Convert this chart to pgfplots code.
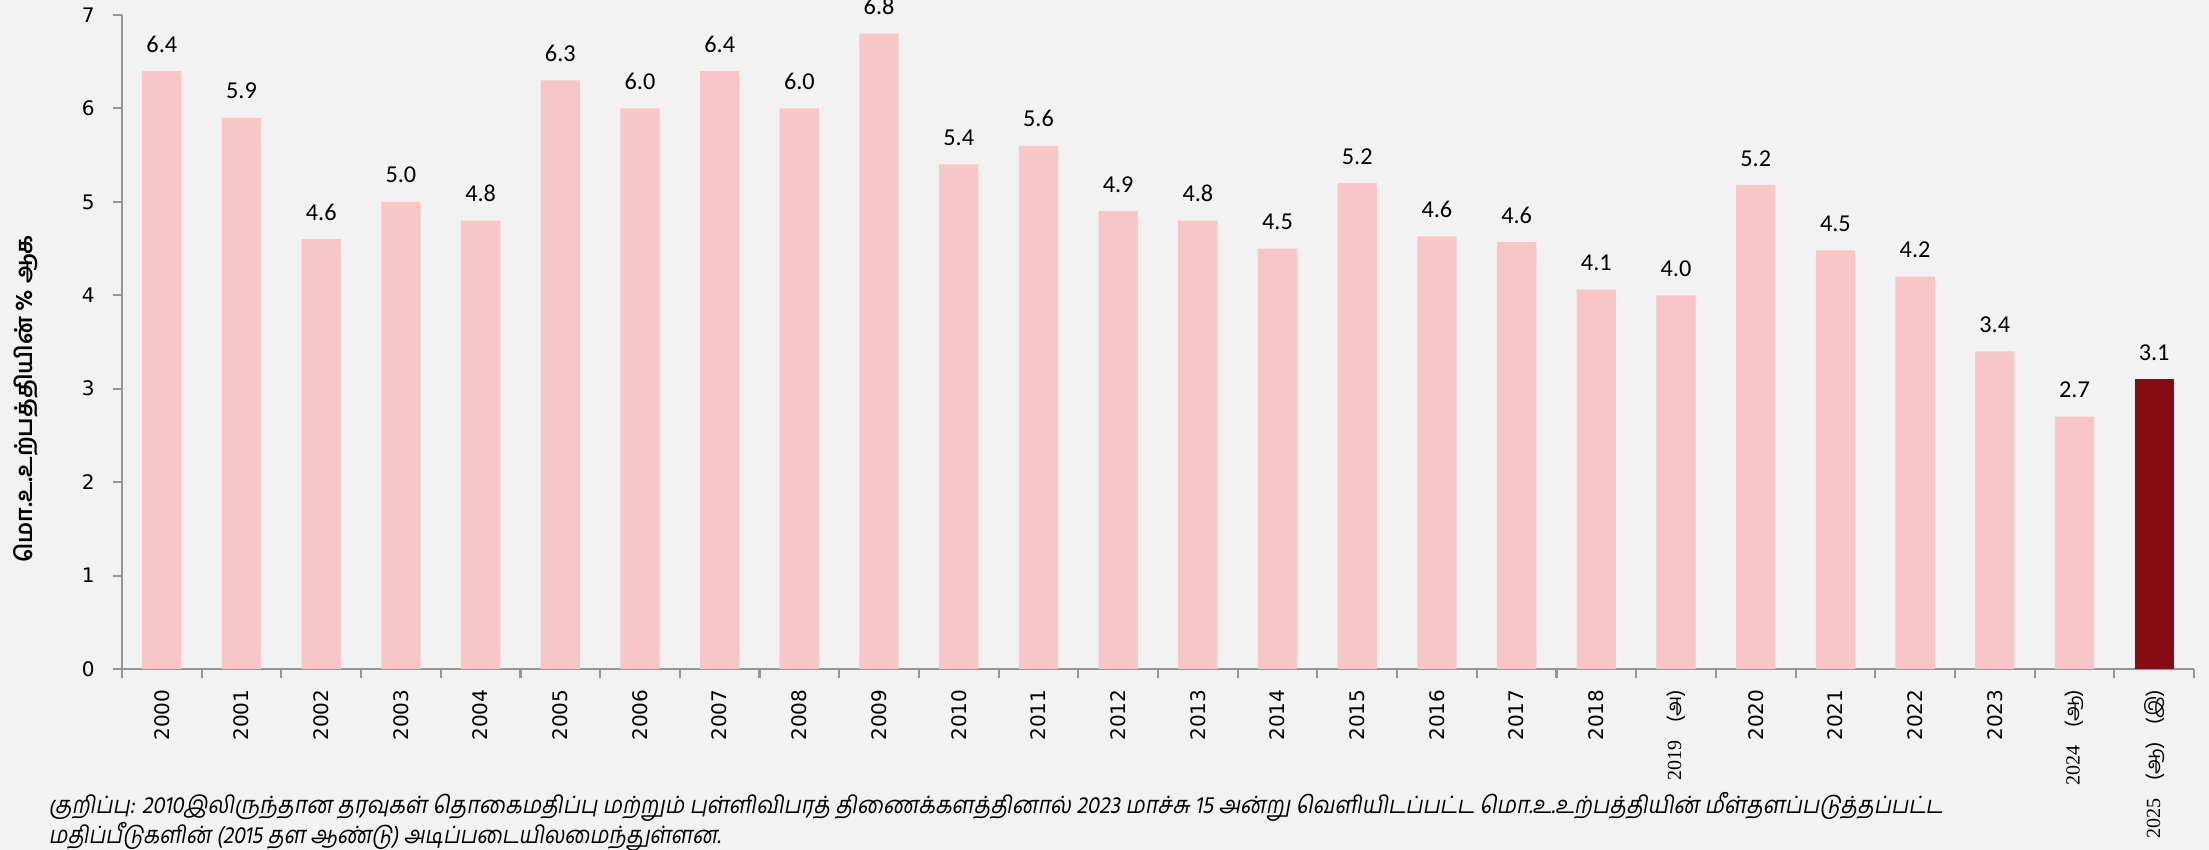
\documentclass[border=0pt]{standalone}
\usepackage{pgfplots}
\pgfplotsset{compat=1.18}
\usepackage{fontspec}
\usepackage{graphicx}
\setmainfont{DejaVu Sans}
\newfontfamily\dejavu{DejaVu Sans}
\newfontfamily\carlito{Carlito}
\newfontfamily\serifrm{Liberation Serif}
\newfontfamily\tamil[Script=Tamil]{Hind Madurai}
\newfontfamily\tamilit[Script=Tamil,FakeSlant=0.2]{Hind Madurai}
\definecolor{bg}{RGB}{242,242,242}
\definecolor{barpink}{RGB}{249,198,200}
\definecolor{bardark}{RGB}{133,13,17}
\definecolor{axgray}{RGB}{150,150,150}
\pgfplotstableread{
x y
0 6.4
1 5.9
2 4.6
3 5.0
4 4.8
5 6.3
6 6.0
7 6.4
8 6.0
9 6.8
10 5.4
11 5.6
12 4.9
13 4.8
14 4.5
15 5.2
16 4.63
17 4.57
18 4.06
19 4.0
20 5.18
21 4.48
22 4.2
23 3.4
24 2.7
}\pinkdata
\pgfplotstableread{
x y
25 3.1
}\darkdata
\newcommand\fnone{குறிப்பு: 2010இலிருந்தான தரவுகள் தொகைமதிப்பு மற்றும் புள்ளிவிபரத் திணைக்களத்தினால் 2023 மாச்சு 15 அன்று வெளியிடப்பட்ட மொ.உ.உற்பத்தியின் மீள்தளப்படுத்தப்பட்ட}
\newcommand\fntwo{மதிப்பீடுகளின் (2015 தள ஆண்டு) அடிப்படையிலமைந்துள்ளன.}
\newcommand\tam[1]{{\tamil\fontsize{5.8}{7}\selectfont #1}}
\begin{document}%
\begin{tikzpicture}
\path[use as bounding box, fill=bg] (0,0) rectangle (22.09cm,8.5cm);
\begin{axis}[
  at={(1.22cm,1.81cm)}, anchor=south west,
  scale only axis, width=20.72cm, height=6.54cm,
  xmin=-0.5, xmax=25.5, ymin=0, ymax=7,
  axis x line*=bottom, axis y line*=left,
  axis line style={draw=axgray, line width=0.6pt},
  tick style={draw=axgray, line width=0.6pt},
  tick align=outside,
  major tick length=0.9mm,
  ytick={0,...,7},
  yticklabel style={font=\dejavu\fontsize{5.7}{6}\selectfont, inner sep=5pt},
  xtick={-0.5,0.5,...,25.5},
  xticklabels={},
  extra x ticks={0,...,25},
  extra x tick labels={2000,2001,2002,2003,2004,2005,2006,2007,2008,2009,2010,2011,2012,2013,2014,2015,2016,2017,2018,{\serifrm 2019}\hspace{5pt}\tam{(அ)},2020,2021,2022,2023,{\serifrm 2024}\hspace{5pt}\tam{(ஆ)},{\serifrm 2025}\hspace{5pt}\tam{(ஆ)}\hspace{5pt}\tam{(இ)}},
  extra x tick style={major tick length=0pt, xticklabel style={rotate=90, anchor=east, inner sep=0pt, font=\dejavu\fontsize{5.7}{6}\selectfont}},
  xticklabel shift=2mm,
  /pgf/number format/assume math mode=true,
  ylabel={\tamil\bfseries\fontsize{6.6}{8}\selectfont மொ.உ.உற்பத்தியின் \% ஆக},
  every axis y label/.style={at={(axis description cs:-0.0463,0.413)}, anchor=center, rotate=90},
  ybar, bar width=3.93mm, bar shift=0pt,
  clip=false,
  nodes near coords,
  nodes near coords style={font=\carlito\fontsize{6.9}{7}\selectfont, anchor=south, inner sep=0pt, yshift=1.8mm, text=black, /pgf/number format/.cd, fixed, fixed zerofill, precision=1, assume math mode=true},
]
\addplot[fill=barpink, draw=none] table[x=x,y=y] {\pinkdata};
\addplot[fill=bardark, draw=none] table[x=x,y=y] {\darkdata};
\end{axis}
\node[anchor=base west, inner sep=0pt, font=\tamilit\fontsize{6.8}{8}\selectfont] at (0.48cm,0.36cm) {\resizebox{18.94cm}{\height}{\fnone}};
\node[anchor=base west, inner sep=0pt, font=\tamilit\fontsize{6.8}{8}\selectfont] at (0.48cm,0.06cm) {\resizebox{6.72cm}{\height}{\fntwo}};
\end{tikzpicture}%
\end{document}
